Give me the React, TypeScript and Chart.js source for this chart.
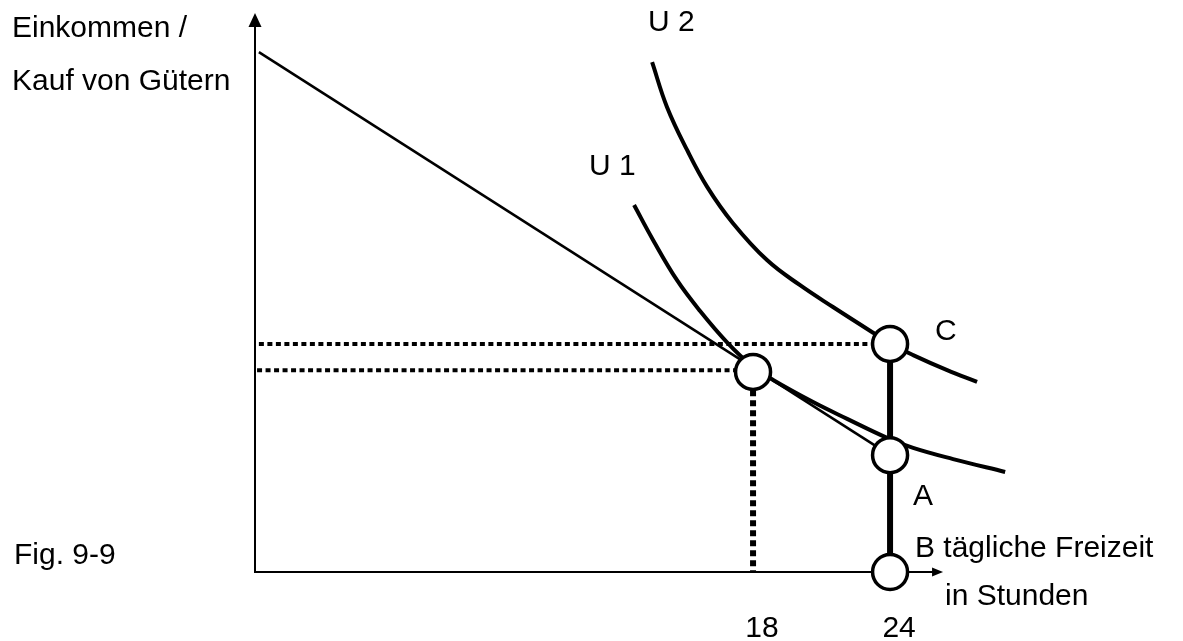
import { useEffect, useRef } from "react";
import { Chart, registerables } from "chart.js";

Chart.register(...registerables);

// ---- data (x: tägliche Freizeit in Stunden, y: Einkommen, arbitrary units) ----
const budgetX = [-3.64, 24];
const budgetY = [93.0, 20.9];

const u1X = [12.79, 13.62, 14.67, 15.68, 16.86, 17.96, 18.88, 20.63, 22.12, 23.87, 25.01, 26.76, 29.04];
const u1Y = [65.65, 59.4, 52.2, 46.7, 41.1, 36.85, 34.35, 30.4, 27.4, 24.0, 22.2, 20.2, 17.9];

const u2X = [13.58, 14.23, 15.11, 15.99, 17.12, 18.61, 20.06, 21.5, 23.26, 24.13, 25.01, 26.5, 27.81];
const u2Y = [91.2, 83.2, 75.5, 68.9, 62.4, 55.8, 51.3, 47.4, 42.8, 40.6, 38.8, 36.1, 34.0];

const circleX = [18, 24, 24, 24];
const circleY = [35.8, 40.8, 20.9, 0];

const upperDotX = [-3.64, 24];
const upperDotY = [40.8, 40.8];
const lowerDotX = [-3.72, 18];
const lowerDotY = [36.1, 36.1];
const vertDotX = [18, 18];
const vertDotY = [36.1, 0];
const vertSolidX = [24, 24];
const vertSolidY = [40.8, 0];

const xTickLabels = [18, 24];
const xAxisEnd = 26.32;

const xMin = -3.81;
const xMax = 29.69;
const yMin = 0;
const yMax = 100;

const zip = (xs: number[], ys: number[]) => xs.map((x, i) => ({ x, y: ys[i] }));

const FONT = '30px "Liberation Sans", Arial, sans-serif';

const overlayPlugin = {
  id: "overlay",
  beforeDatasetsDraw(chart: any) {
    const { ctx, scales } = chart;
    const xs = scales.x;
    const ys = scales.y;
    const ox = xs.getPixelForValue(xMin);
    const oy = ys.getPixelForValue(0);
    const ex = xs.getPixelForValue(xAxisEnd);
    const ty = ys.getPixelForValue(yMax);
    ctx.save();
    ctx.strokeStyle = "#000";
    ctx.fillStyle = "#000";
    ctx.lineWidth = 2;
    ctx.beginPath();
    ctx.moveTo(ox, oy);
    ctx.lineTo(ox, ty + 12);
    ctx.moveTo(ox - 1, oy);
    ctx.lineTo(ex - 9, oy);
    ctx.stroke();
    // y arrow
    ctx.beginPath();
    ctx.moveTo(ox, ty);
    ctx.lineTo(ox - 6.5, ty + 14);
    ctx.lineTo(ox + 6.5, ty + 14);
    ctx.closePath();
    ctx.fill();
    // x arrow
    ctx.beginPath();
    ctx.moveTo(ex, oy);
    ctx.lineTo(ex - 11, oy - 4.5);
    ctx.lineTo(ex - 11, oy + 4.5);
    ctx.closePath();
    ctx.fill();
    ctx.restore();
  },
  afterDraw(chart: any) {
    const { ctx, scales } = chart;
    const xs = scales.x;
    ctx.save();
    ctx.fillStyle = "#000";
    ctx.font = FONT;
    ctx.textBaseline = "alphabetic";
    ctx.textAlign = "left";
    const texts: [string, number, number][] = [
      ["Einkommen /", 12, 37],
      ["Kauf von Gütern", 12, 90],
      ["U 2", 648, 31],
      ["U 1", 589, 175],
      ["C", 935, 340],
      ["A", 913, 505],
      ["B tägliche Freizeit", 915, 557],
      ["in Stunden", 945, 605],
      ["Fig. 9-9", 14, 564],
    ];
    texts.forEach(([t, x, y]) => ctx.fillText(t, x, y));
    ctx.textAlign = "center";
    xTickLabels.forEach((v) => {
      ctx.fillText(String(v), xs.getPixelForValue(v) + 9, 637);
    });
    ctx.restore();
  },
};

export default function App() {
  const ref = useRef<HTMLCanvasElement | null>(null);

  useEffect(() => {
    document.body.style.margin = "0";
    const canvas = ref.current;
    if (!canvas) return;
    const lineDs = (data: any[], extra: any = {}) => ({
      type: "line",
      data,
      borderColor: "#000",
      backgroundColor: "#000",
      pointRadius: 0,
      pointHoverRadius: 0,
      showLine: true,
      fill: false,
      clip: false,
      ...extra,
    });
    const chart = new Chart(canvas, {
      type: "scatter",
      data: {
        datasets: [
          {
            type: "scatter",
            data: zip(circleX, circleY),
            pointRadius: 17.5,
            pointHoverRadius: 17.5,
            pointBorderWidth: 3.5,
            pointBorderColor: "#000",
            pointBackgroundColor: "#fff",
            showLine: false,
            clip: false,
          } as any,
          lineDs(zip(u2X, u2Y), { borderWidth: 4, tension: 0.4 }),
          lineDs(zip(u1X, u1Y), { borderWidth: 4, tension: 0.4 }),
          lineDs(zip(budgetX, budgetY), { borderWidth: 2.5 }),
          lineDs(zip(vertSolidX, vertSolidY), { borderWidth: 6 }),
          lineDs(zip(upperDotX, upperDotY), { borderWidth: 4, borderDash: [5, 3.5] }),
          lineDs(zip(lowerDotX, lowerDotY), { borderWidth: 4, borderDash: [5, 3.5] }),
          lineDs(zip(vertDotX, vertDotY), { borderWidth: 6, borderDash: [6, 4] }),
        ],
      },
      options: {
        responsive: false,
        animation: false,
        events: [],
        layout: { autoPadding: false, padding: { left: 255, right: 163, top: 13, bottom: 69 } },
        plugins: { legend: { display: false }, tooltip: { enabled: false } },
        scales: {
          x: { type: "linear", min: xMin, max: xMax, display: false },
          y: { type: "linear", min: yMin, max: yMax, display: false },
        },
      },
      plugins: [overlayPlugin],
    } as any);
    return () => chart.destroy();
  }, []);

  return (
    <div style={{ width: 1183, height: 641, background: "#fff" }}>
      <canvas ref={ref} width={1183} height={641} style={{ display: "block" }} />
    </div>
  );
}
